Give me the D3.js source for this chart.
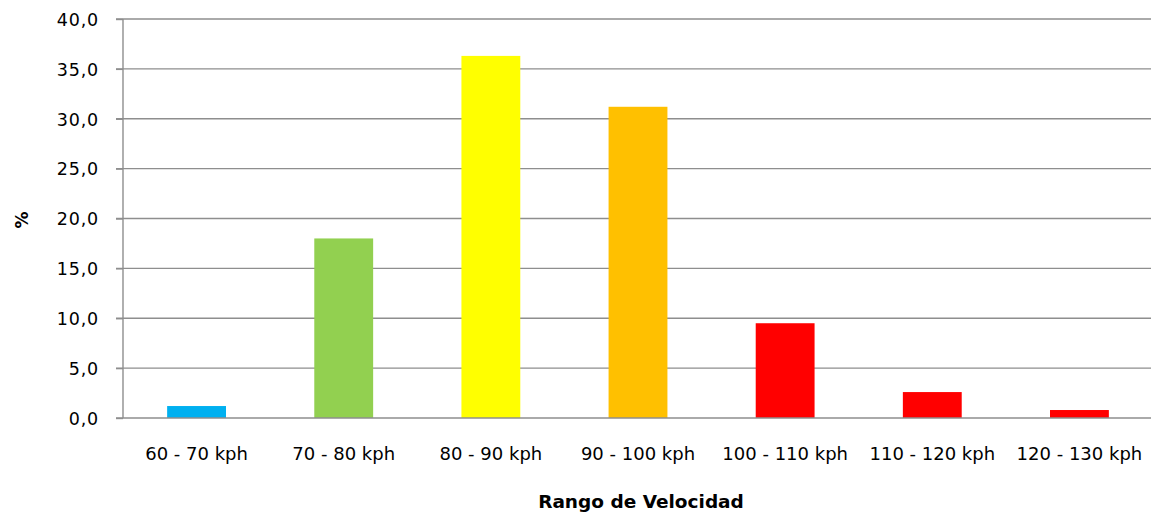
<!DOCTYPE html>
<meta charset="utf-8">
<style>
    body { margin: 0; background: white; }
    svg { display: block; background: white; }
    text { font-family: "DejaVu Sans", Verdana, sans-serif; fill: #000; }
    .tick text { font-size: 17px; }
    .grid line { stroke: #8e8e8e; stroke-width: 1.4; }
    .axis-title { font-weight: bold; font-size: 18.5px; }
</style>
<svg width="1151" height="515"></svg>
<script src="https://d3js.org/d3.v7.min.js"></script>
<script>
    // rangos de velocidad y su porcentaje
    var categories = ["60 - 70 kph", "70 - 80 kph", "80 - 90 kph", "90 - 100 kph",
                      "100 - 110 kph", "110 - 120 kph", "120 - 130 kph"];
    var values = [1.2, 18.0, 36.3, 31.2, 9.5, 2.6, 0.8];
    var colors = ["#00B0F0", "#92D050", "#FFFF00", "#FFC000", "#FF0000", "#FF0000", "#FF0000"];
    var yTicks = [0, 5, 10, 15, 20, 25, 30, 35, 40];

    var svg = d3.select("svg"),
        margin = {top: 19, right: -2, bottom: 97, left: 123},
        width = 1151 - margin.left - margin.right,
        height = 515 - margin.top - margin.bottom;

    var g = svg.append("g")
        .attr("transform", "translate(" + margin.left + "," + margin.top + ")");

    var x = d3.scaleBand()
        .domain(categories)
        .range([0, width])
        .paddingInner(0.6)
        .paddingOuter(0.3);

    var y = d3.scaleLinear()
        .domain([0, 40])
        .range([height, 0]);

    var fmt = function (d) { return d3.format(".1f")(d).replace(".", ","); };

    // lineas de fondo
    g.append("g")
        .attr("class", "grid")
        .selectAll("line")
        .data(yTicks.filter(function (d) { return d > 0; }))
        .enter().append("line")
        .attr("x1", -7)
        .attr("x2", width)
        .attr("y1", function (d) { return y(d); })
        .attr("y2", function (d) { return y(d); });

    g.selectAll(".bar")
        .data(values)
        .enter().append("rect")
        .attr("class", "bar")
        .attr("x", function (d, i) { return x(categories[i]); })
        .attr("width", x.bandwidth())
        .attr("y", function (d) { return y(d); })
        .attr("height", function (d) { return height - y(d); })
        .attr("fill", function (d, i) { return colors[i]; });

    // eje y
    var yAxis = g.append("g")
        .call(d3.axisLeft(y).tickValues(yTicks).tickFormat(fmt).tickSize(7).tickPadding(17));
    yAxis.select(".domain").attr("stroke", "#8e8e8e").attr("stroke-width", 1.4)
        .attr("d", "M0," + height + "V0");
    yAxis.selectAll(".tick line").attr("stroke", "#8e8e8e").attr("stroke-width", 1.4);
    yAxis.selectAll(".tick text").attr("dy", "0.36em").style("font-size", "17.5px")
        .style("letter-spacing", "0.8px");

    // eje x
    var xAxis = g.append("g")
        .attr("transform", "translate(0," + height + ")")
        .call(d3.axisBottom(x).tickSize(0).tickPadding(29));
    xAxis.select(".domain").attr("stroke", "#8e8e8e").attr("stroke-width", 1.4)
        .attr("d", "M-7,0H" + width);
    xAxis.selectAll(".tick text").style("font-size", "18px");

    svg.append("text")
        .attr("class", "axis-title")
        .attr("x", 641)
        .attr("y", 508)
        .attr("text-anchor", "middle")
        .text("Rango de Velocidad");

    svg.append("text")
        .attr("class", "axis-title")
        .attr("transform", "translate(28,220) rotate(-90)")
        .attr("text-anchor", "middle")
        .style("font-size", "17px")
        .text("%");
</script>
